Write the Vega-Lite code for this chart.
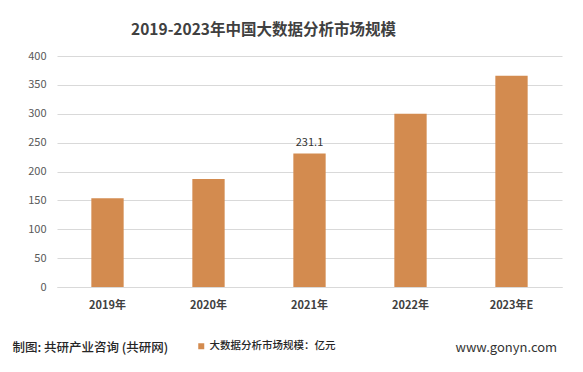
{
  "$schema": "https://vega.github.io/schema/vega-lite/v6.json",
  "width": 505,
  "height": 231,
  "autosize": {"type": "none"},
  "padding": {"left": 57, "top": 56, "right": 21, "bottom": 85},
  "background": "white",
  "config": {
    "font": "Noto Sans CJK SC",
    "view": {"stroke": null}
  },
  "title": {
    "text": "2019-2023年中国大数据分析市场规模",
    "fontSize": 15.5,
    "fontWeight": "bold",
    "color": "#404040",
    "anchor": "middle",
    "dx": -46,
    "offset": 12
  },
  "data": {
    "values": [
      {"year": "2019年", "value": 153.5, "label": "", "series": "大数据分析市场规模：亿元"},
      {"year": "2020年", "value": 187, "label": "", "series": "大数据分析市场规模：亿元"},
      {"year": "2021年", "value": 231.1, "label": "231.1", "series": "大数据分析市场规模：亿元"},
      {"year": "2022年", "value": 300, "label": "", "series": "大数据分析市场规模：亿元"},
      {"year": "2023年E", "value": 366, "label": "", "series": "大数据分析市场规模：亿元"}
    ]
  },
  "encoding": {
    "x": {
      "field": "year",
      "type": "nominal",
      "sort": null,
      "scale": {"paddingInner": 0.68, "paddingOuter": 0.34},
      "axis": {
        "title": "制图: 共研产业咨询 (共研网)",
        "titleFontSize": 12.5,
        "titleFontWeight": 500,
        "titleColor": "#262626",
        "titleAnchor": "start",
        "titleAlign": "left",
        "titleBaseline": "middle",
        "titleX": -45,
        "titleY": 60,
        "labelAngle": 0,
        "labelFontSize": 11,
        "labelFontWeight": "bold",
        "labelColor": "#404040",
        "labelPadding": 12,
        "ticks": false,
        "domain": true,
        "domainColor": "#D9D9D9",
        "domainWidth": 1
      }
    },
    "y": {
      "field": "value",
      "type": "quantitative",
      "scale": {"domain": [0, 400]},
      "axis": {
        "values": [0, 50, 100, 150, 200, 250, 300, 350, 400],
        "title": "www.gonyn.com",
        "titleAngle": 0,
        "titleFontSize": 13,
        "titleFontWeight": "normal",
        "titleColor": "#333333",
        "titleAlign": "left",
        "titleBaseline": "middle",
        "titleX": 398,
        "titleY": 291,
        "labelFontSize": 11,
        "labelColor": "#595959",
        "labelPadding": 11,
        "ticks": false,
        "domain": false,
        "grid": true,
        "gridColor": "#D9D9D9",
        "gridWidth": 1
      }
    }
  },
  "layer": [
    {
      "mark": {"type": "bar", "color": "#D38B4F"},
      "encoding": {
        "color": {
          "field": "series",
          "type": "nominal",
          "scale": {"range": ["#D38B4F"]},
          "legend": {
            "title": null,
            "orient": "none",
            "legendX": 139,
            "legendY": 285,
            "symbolType": "square",
            "symbolSize": 36,
            "labelFontSize": 10.5,
            "labelFontWeight": 500,
            "labelColor": "#262626",
            "labelOffset": 3
          }
        }
      }
    },
    {
      "mark": {"type": "text", "baseline": "bottom", "dy": -6, "fontSize": 11, "color": "#333333"},
      "encoding": {"text": {"field": "label"}}
    }
  ]
}
